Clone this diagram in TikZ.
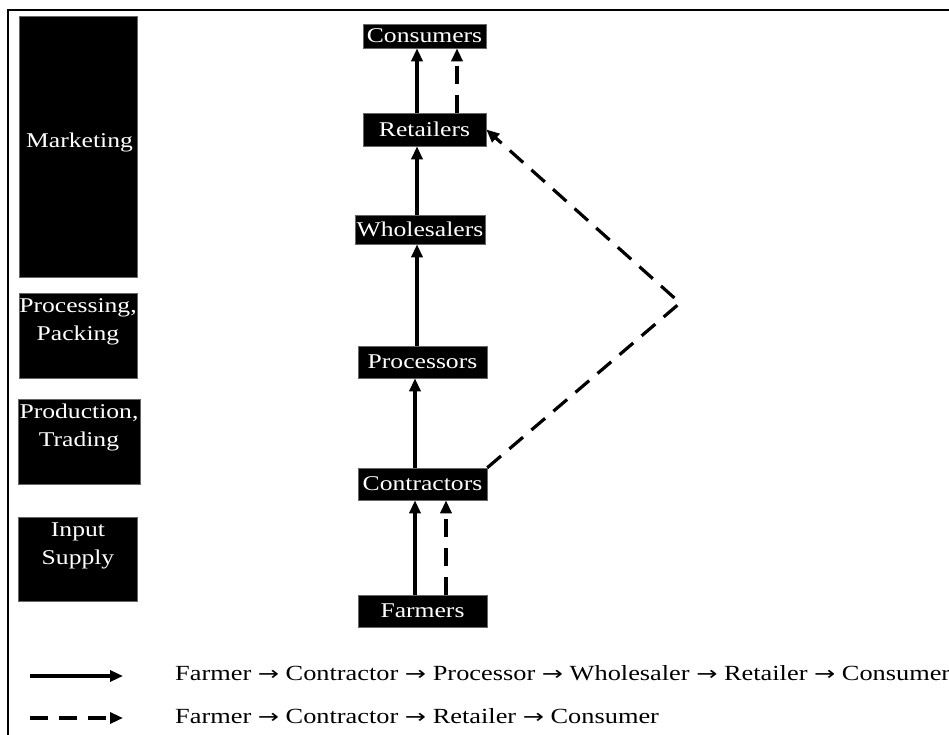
\documentclass[tikz,border=0pt]{standalone}
\usepackage{fontspec}
\setmainfont{Liberation Serif}[FakeStretch=1.22]
\newfontfamily\arwfont{DejaVu Sans}[FakeStretch=1.3]
\newcommand{\ar}{{\arwfont\fontsize{19.5}{28}\selectfont →}}
\usetikzlibrary{arrows.meta}
\begin{document}
\begin{tikzpicture}[x=1pt,y=-1pt,
  blk/.style={fill=black,draw=black!60,line width=0.6pt,text=white,inner sep=0pt,font=\fontsize{21}{28}\selectfont},
  lbl/.style={text=white,align=center,inner sep=0pt,font=\fontsize{21}{28}\selectfont},
  leg/.style={anchor=west,inner sep=0pt,font=\fontsize{21.6}{28}\selectfont},
  flow/.style={line width=3.2pt,-{Triangle[length=13pt,width=11pt]}},
  dflow/.style={flow,dash pattern=on 18pt off 11pt},
  frame/.style={line width=2pt}
]
\useasboundingbox (0,0) rectangle (949,735);
% frame
\coordinate (fbl) at (8,735);
\coordinate (ftl) at (8,10);
\coordinate (ftr) at (949,10);
\draw[frame] (fbl) -- (ftl) -- (ftr);

% left column
\node[blk,minimum width=118pt,minimum height=261pt] (mkt) at (78,146.5) {};
\node[lbl] (mktt) at (79.5,142) {Marketing};
\node[blk,minimum width=118pt,minimum height=85pt] (pp) at (78,335.5) {};
\node[lbl] (ppt) at (78,322) {Processing,\\Packing};
\node[blk,minimum width=122pt,minimum height=85pt] (pt) at (79,441.5) {};
\node[lbl] (ptt) at (79,427) {Production,\\Trading};
\node[blk,minimum width=119pt,minimum height=84pt] (is) at (77.5,559) {};
\node[lbl] (ist) at (78,546) {Input\\Supply};

% center column
\node[blk,minimum width=123pt,minimum height=24pt] (con) at (424.5,36) {Consumers};
\node[blk,minimum width=123pt,minimum height=33pt] (ret) at (424.5,129.5) {Retailers};
\node[blk,minimum width=130pt,minimum height=29pt] (who) at (420,229.5) {Wholesalers};
\node[blk,minimum width=129pt,minimum height=32pt] (pro) at (422.5,362) {Processors};
\node[blk,minimum width=129pt,minimum height=32pt] (ctr) at (422.5,484) {Contractors};
\node[blk,minimum width=129pt,minimum height=32pt] (frm) at (422.5,611) {Farmers};

\coordinate (xa) at (417,0);
\coordinate (xb) at (457,0);
\coordinate (xc) at (415,0);
\coordinate (xd) at (446,0);
\coordinate (apex) at (680,303);

\draw[flow] (ret.north -| xa) -- (con.south -| xa);
\draw[dflow] (ret.north -| xb) -- (con.south -| xb);
\draw[flow] (who.north -| xa) -- (ret.south -| xa);
\draw[flow] (pro.north -| xa) -- (who.south -| xa);
\draw[flow] (ctr.north -| xc) -- (pro.south -| xc);
\draw[flow] (frm.north -| xc) -- (ctr.south -| xc);
\draw[dflow] (frm.north -| xd) -- (ctr.south -| xd);
\draw[dflow] (ctr.north east) -- (apex) -- (ret.east);

% legend
\coordinate (l1a) at (30,676);
\coordinate (l1b) at (123,676);
\coordinate (l2a) at (30,718);
\coordinate (l2b) at (123,718);
\draw[flow] (l1a) -- (l1b);
\draw[dflow] (l2a) -- (l2b);
\node[leg] (t1) at (175,673) {Farmer \ar{} Contractor \ar{} Processor \ar{} Wholesaler \ar{} Retailer \ar{} Consumer};
\node[leg] (t2) at (175,716) {Farmer \ar{} Contractor \ar{} Retailer \ar{} Consumer};
\end{tikzpicture}
\end{document}
